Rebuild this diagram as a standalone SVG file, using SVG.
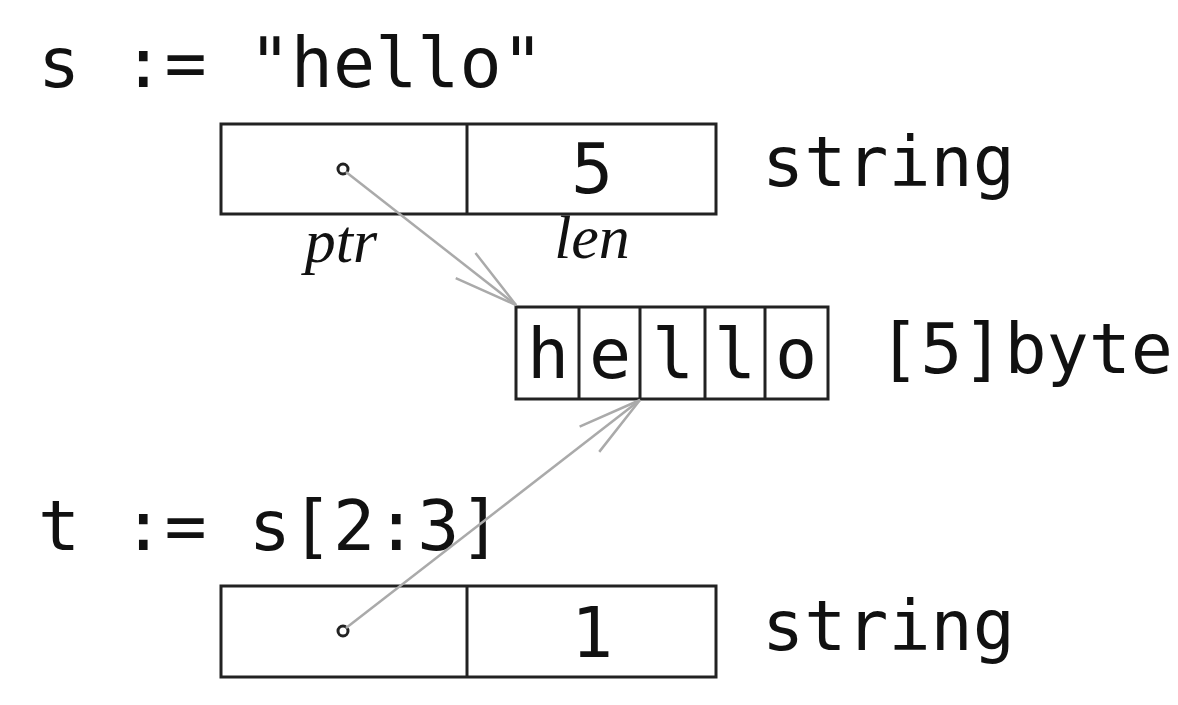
<svg xmlns="http://www.w3.org/2000/svg" width="1178" height="705" viewBox="0 0 1178 705">
<style>
.mono{font-family:"DejaVu Sans Mono","Liberation Mono",monospace;font-size:70px;fill:#111}
.lbl{font-family:"Liberation Serif","DejaVu Serif",serif;font-style:italic;font-size:62px;fill:#111}
.box{fill:none;stroke:#222;stroke-width:3}
.conn{fill:none;stroke:#aaa;stroke-width:2.5}
</style>
<defs>
<marker id="vh" markerUnits="userSpaceOnUse" markerWidth="80" markerHeight="40" viewBox="-70 -20 80 40" refX="0" refY="0" orient="auto">
<path d="M-64,-16 L0,0 L-64,16" fill="none" stroke="#aaa" stroke-width="2.5"/>
</marker>
</defs>
<rect width="1178" height="705" fill="#fff"/>
<text class="mono" x="38" y="87">s := "hello"</text>
<text class="mono" x="38" y="550">t := s[2:3]</text>
<g id="s">
<rect class="box" x="221" y="124" width="495" height="90"/>
<line class="box" x1="467" y1="124" x2="467" y2="214"/>
<circle cx="343" cy="169" r="5" fill="none" stroke="#222" stroke-width="3"/>
<text class="mono" x="592" y="193" text-anchor="middle">5</text>
<text class="mono" x="762" y="186">string</text>
<text class="lbl" x="341" y="262" text-anchor="middle">ptr</text>
<text class="lbl" x="592" y="258" text-anchor="middle">len</text>
</g>
<g id="bytes">
<rect class="box" x="516" y="307" width="312" height="92"/>
<line class="box" x1="579" y1="307" x2="579" y2="399"/>
<line class="box" x1="640" y1="307" x2="640" y2="399"/>
<line class="box" x1="705" y1="307" x2="705" y2="399"/>
<line class="box" x1="765" y1="307" x2="765" y2="399"/>
<text class="mono" x="548" y="378" text-anchor="middle">h</text>
<text class="mono" x="610" y="378" text-anchor="middle">e</text>
<text class="mono" x="673" y="378" text-anchor="middle">l</text>
<text class="mono" x="735" y="378" text-anchor="middle">l</text>
<text class="mono" x="796" y="378" text-anchor="middle">o</text>
<text class="mono" x="878" y="373">[5]byte</text>
</g>
<g id="t">
<rect class="box" x="221" y="586" width="495" height="91"/>
<line class="box" x1="467" y1="586" x2="467" y2="677"/>
<circle cx="343" cy="631" r="5" fill="none" stroke="#222" stroke-width="3"/>
<text class="mono" x="592" y="657" text-anchor="middle">1</text>
<text class="mono" x="762" y="650">string</text>
</g>
<g id="connectors">
<line class="conn" x1="346" y1="172" x2="516" y2="305" marker-end="url(#vh)"/>
<line class="conn" x1="346" y1="628" x2="640" y2="400" marker-end="url(#vh)"/>
</g>
</svg>
